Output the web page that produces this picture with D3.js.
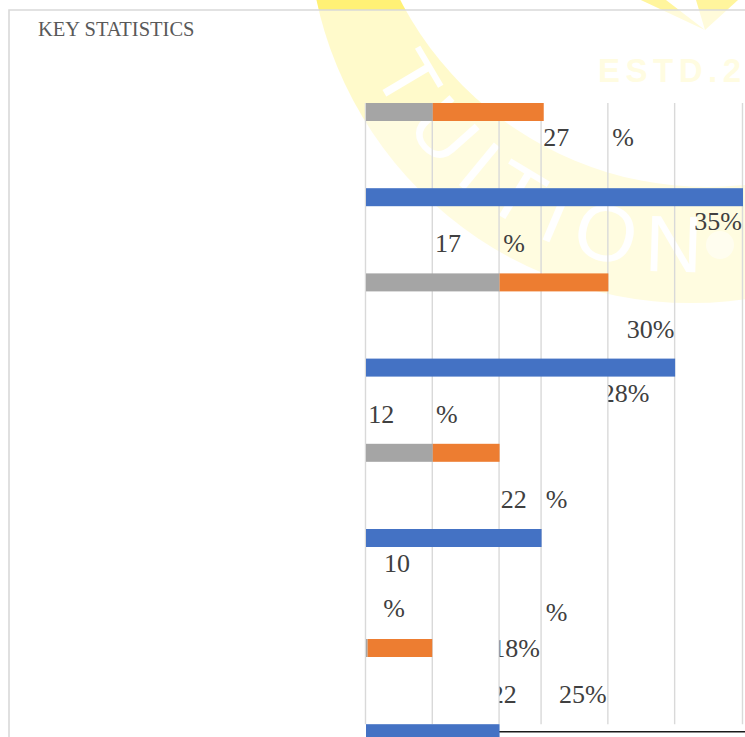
<!DOCTYPE html>
<html>
<head>
<meta charset="utf-8">
<script src="https://cdn.jsdelivr.net/npm/d3@7"></script>
<style>
    body { margin: 0; background: #fff; }
    svg { display: block; }
</style>
</head>
<body>
<div id="chart"></div>
<script>
// DATA
var categories = ["Item 1", "Item 2", "Item 3", "Item 4"];
var grayValues = [6.2, 12.4, 6.2, 0.15];
var orangeValues = [10.3, 10.1, 6.2, 6.0];
var blueValues = [35, 28.7, 16.3, 12.4];
var gridValues = [0, 6.2, 12.4, 16.3, 22.5, 28.7, 35];

// data labels as they came out of the export: text, value on x, row slot
var labels = [
    { t: "27", v: 16.46, s: 0.51 },
    { t: "%", v: 22.87, s: 0.51 },
    { t: "35%", v: 34.9, s: 1.49, end: true },
    { t: "17", v: 6.41, s: 1.745 },
    { t: "%", v: 12.75, s: 1.745 },
    { t: "30%", v: 28.64, s: 2.762, end: true },
    { t: "28%", v: 26.32, s: 3.506, end: true, clip: 22.5 },
    { t: "12", v: 0.21, s: 3.752 },
    { t: "%", v: 6.5, s: 3.752 },
    { t: "22", v: 12.5, s: 4.748 },
    { t: "%", v: 16.68, s: 4.748 },
    { t: "10", v: 1.67, s: 5.388 },
    { t: "%", v: 1.6, s: 5.797 },
    { t: "%", v: 16.68, s: 5.836 },
    { t: "18%", v: 16.15, s: 6.213, end: true, clip: 12.4 },
    { t: "22", v: 13.99, s: 6.748, end: true, clip: 12.4 },
    { t: "25%", v: 17.92, s: 6.748 }
];

var colors = { gray: "#a5a5a5", orange: "#ed7d31", blue: "#4472c4" };

var width = 745, height = 737;
var svg = d3.select("#chart").append("svg")
    .attr("width", width)
    .attr("height", height);

//x in percent, y in bar "rows" (two rows per category, last pair pushed down)
var x = d3.scaleLinear().domain([0, 35]).range([366, 743]);
var step = 85.2, top0 = 103, gap = 24.8, barH = 18;
var y = d3.scaleLinear()
    .domain([0, 5, 6, 7])
    .range([top0, top0 + 5 * step, top0 + 6 * step + gap, top0 + 7 * step + gap]);

// WATERMARK (logo behind the chart)
var wm = svg.append("g");
wm.append("circle").attr("cx", 691).attr("cy", -80).attr("r", 383).attr("fill", "#fff176");
wm.append("circle").attr("cx", 707).attr("cy", -158).attr("r", 345).attr("fill", "#fff");
wm.append("path")
    .attr("d", "M598,-20 L705,30 L640,-20 Z M690,-20 L705,30 L760,-20 Z")
    .attr("fill", "#fff59d");
wm.append("text")
    .attr("x", 598).attr("y", 82)
    .attr("font-family", "Liberation Sans, Arial, sans-serif")
    .attr("font-weight", "bold")
    .attr("font-size", 33)
    .attr("letter-spacing", 5.5)
    .attr("fill", "#fff7b0")
    .text("ESTD.2");
wm.append("circle").attr("cx", 720).attr("cy", 245).attr("r", 14).attr("fill", "#fff").attr("opacity", 0.5);

var rr = 352, cx = 691, cy = -80;
function pt(a) {
    var r = a * Math.PI / 180;
    return [cx + rr * Math.cos(r), cy + rr * Math.sin(r)];
}
var p0 = pt(190), p1 = pt(40);
wm.append("path")
    .attr("id", "ringPath")
    .attr("fill", "none")
    .attr("d", "M" + p0 + " A" + rr + "," + rr + " 0 0 0 " + p1);
wm.append("text")
    .attr("font-family", "Liberation Sans, Arial, sans-serif")
    .attr("font-size", 80)
    .attr("letter-spacing", 14.5)
    .attr("fill", "#fff")
    .append("textPath")
    .attr("href", "#ringPath")
    .attr("startOffset", 218)
    .text("TUITION");

// white panels over the logo
svg.append("rect").attr("x", 9).attr("y", 10).attr("width", width - 9).attr("height", height - 10)
    .attr("fill", "#fff").attr("opacity", 0.62);
svg.append("rect").attr("x", x(0) - 1).attr("y", top0).attr("width", width - x(0) + 1).attr("height", height - top0)
    .attr("fill", "#fff").attr("opacity", 0.4);

// GRIDLINES
svg.append("g")
    .selectAll("line")
    .data(gridValues)
    .join("line")
    .attr("x1", d => x(d) - 0.5)
    .attr("x2", d => x(d) - 0.5)
    .attr("y1", y(0))
    .attr("y2", y(7))
    .attr("stroke", "#d9d9d9")
    .attr("stroke-width", 1.4);

// axis line (mostly hidden under the last bar)
svg.append("line")
    .attr("x1", x(0)).attr("x2", width)
    .attr("y1", y(7) + 7.5).attr("y2", y(7) + 7.5)
    .attr("stroke", "#1a1a1a")
    .attr("stroke-width", 1.6);

// BARS
var bars = svg.append("g");
categories.forEach(function (c, i) {
    var r0 = i * 2, r1 = i * 2 + 1;
    bars.append("rect")
        .attr("x", x(0)).attr("y", y(r0))
        .attr("width", x(grayValues[i]) - x(0)).attr("height", barH)
        .attr("fill", colors.gray);
    bars.append("rect")
        .attr("x", x(grayValues[i])).attr("y", y(r0))
        .attr("width", x(grayValues[i] + orangeValues[i]) - x(grayValues[i])).attr("height", barH)
        .attr("fill", colors.orange);
    bars.append("rect")
        .attr("x", x(0)).attr("y", y(r1))
        .attr("width", x(blueValues[i]) - x(0)).attr("height", barH)
        .attr("fill", colors.blue);
});

// LABELS
var defs = svg.append("defs");
var lab = svg.append("g")
    .attr("font-family", "Liberation Serif, Times New Roman, serif")
    .attr("font-size", 26)
    .attr("fill", "#404040");
labels.forEach(function (d, i) {
    var t = lab.append("text")
        .attr("x", x(d.v))
        .attr("y", y(d.s))
        .attr("text-anchor", d.end ? "end" : "start")
        .text(d.t);
    if (d.clip != null) {
        defs.append("clipPath").attr("id", "lc" + i)
            .append("rect")
            .attr("x", x(d.clip)).attr("y", y(d.s) - 40)
            .attr("width", 200).attr("height", 60);
        t.attr("clip-path", "url(#lc" + i + ")");
    }
});

// FRAME + TITLE
svg.append("path")
    .attr("d", "M9," + height + " L9,10 L" + width + ",10")
    .attr("fill", "none")
    .attr("stroke", "#d9d9d9")
    .attr("stroke-width", 1.6);

svg.append("text")
    .attr("x", 38)
    .attr("y", 36)
    .attr("font-family", "Liberation Serif, Times New Roman, serif")
    .attr("font-size", 20.5)
    .attr("fill", "#595959")
    .text("KEY STATISTICS");
</script>
</body>
</html>
